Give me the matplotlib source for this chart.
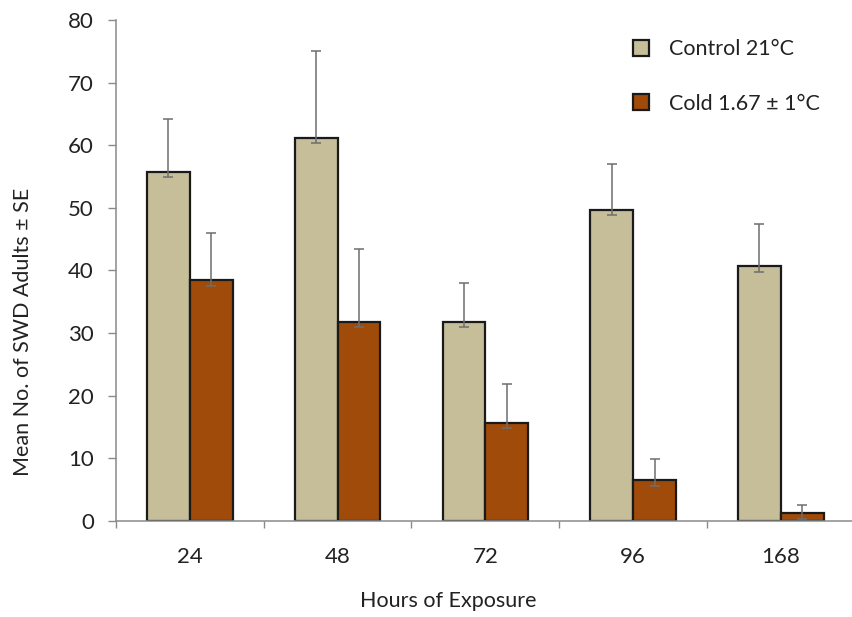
import numpy as np
import matplotlib.pyplot as plt
from matplotlib.patches import Patch

# Werte
hours = ["24", "48", "72", "96", "168"]
control_mean = [55.8, 61.2, 31.8, 49.7, 40.7]
control_se = [8.4, 13.9, 6.2, 7.3, 6.7]
cold_mean = [38.5, 31.8, 15.7, 6.5, 1.2]
cold_se = [7.5, 11.7, 6.2, 3.4, 1.4]
lower_tick = 0.9  # kleiner Strich unterhalb der Balkenoberkante

control_color = "#C5BE99"
cold_color = "#A04B0A"
axis_gray = "#8A8A8A"

plt.rcParams["font.family"] = ["Lato", "DejaVu Sans"]

fig = plt.figure(figsize=(8.53, 6.17), dpi=100)
ax = fig.add_axes([0.136, 0.1556, 0.866, 0.812])

x = np.arange(len(hours))
w = 0.29

ax.bar(x - w / 2, control_mean, width=w, color=control_color,
       edgecolor="#1a1a1a", linewidth=1.6, zorder=2)
ax.bar(x + w / 2, cold_mean, width=w, color=cold_color,
       edgecolor="#1a1a1a", linewidth=1.6, zorder=2)

low = [lower_tick] * len(hours)
ax.errorbar(x - w / 2, control_mean, yerr=[low, control_se], fmt="none",
            ecolor="#6e6e6e", elinewidth=1.1, capsize=3.8, capthick=1.1, zorder=3)
ax.errorbar(x + w / 2, cold_mean, yerr=[low, cold_se], fmt="none",
            ecolor="#6e6e6e", elinewidth=1.1, capsize=3.8, capthick=1.1, zorder=3)

ax.set_xlim(-0.5, 4.48)
ax.set_ylim(0, 80)

ax.set_yticks(range(0, 81, 10))
ax.set_xticks(x)
ax.set_xticklabels(hours)
ax.set_xticks(np.arange(-0.5, 5, 1.0), minor=True)

ax.tick_params(axis="y", direction="out", length=6, width=1, color=axis_gray,
               labelsize=16, pad=10, labelcolor="#222222")
ax.tick_params(axis="x", which="major", length=0, labelsize=16, pad=19,
               labelcolor="#222222")
ax.tick_params(axis="x", which="minor", direction="out", length=5, width=1,
               color=axis_gray)

for side in ["top", "right"]:
    ax.spines[side].set_visible(False)
for side in ["left", "bottom"]:
    ax.spines[side].set_color(axis_gray)
    ax.spines[side].set_linewidth(1.1)

ax.set_ylabel("Mean No. of SWD Adults \u00b1 SE", fontsize=15.5, color="#222222")
ax.yaxis.set_label_coords(-0.113, 0.377)
ax.set_xlabel("Hours of Exposure", fontsize=15.5, color="#222222")
ax.xaxis.set_label_coords(0.45, -0.14)

handles = [
    Patch(facecolor=control_color, edgecolor="#1a1a1a", linewidth=1.6),
    Patch(facecolor=cold_color, edgecolor="#1a1a1a", linewidth=1.6),
]
ax.legend(handles, ["Control 21\u00b0C", "Cold 1.67 \u00b1 1\u00b0C"],
          loc="upper left", bbox_to_anchor=(0.674, 1.0), frameon=False,
          fontsize=15.5, handlelength=0.75, handleheight=0.75,
          handletextpad=0.9, labelspacing=1.6, labelcolor="#222222")

fig.savefig("out.png", dpi=100)
